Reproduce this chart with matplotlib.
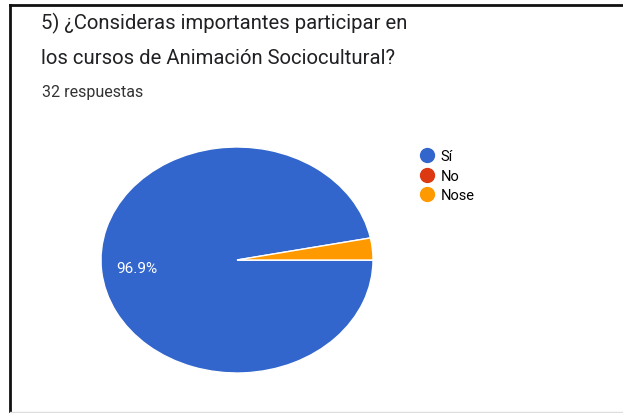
import matplotlib.pyplot as plt
from matplotlib.lines import Line2D

# Survey answers for question 5
labels = ["Sí", "No", "Nose"]
counts = [31, 0, 1]
colors = ["#3366CC", "#DC3912", "#FF9900"]

title_lines = ["5) ¿Consideras importantes participar en",
               "los cursos de Animación Sociocultural?"]
subtitle = "32 respuestas"

plt.rcParams["font.family"] = ["Roboto", "DejaVu Sans"]

W, H = 623, 414
fig = plt.figure(figsize=(W / 100, H / 100), dpi=100)
fig.patch.set_facecolor("white")

# card frame: top, left and bottom edges
frame = dict(color="#111111", linewidth=2.0, transform=fig.transFigure)
fig.add_artist(Line2D([10 / W, 1], [1 - 6 / H, 1 - 6 / H], **frame))
fig.add_artist(Line2D([10 / W, 10 / W], [1 - 6 / H, 1 / H], **frame))
fig.add_artist(Line2D([10 / W, 1], [1 / H, 1 / H], color="#dddddd", linewidth=1.0,
                      transform=fig.transFigure))

for i, line in enumerate(title_lines):
    fig.text(41 / W, 1 - (23 + 36 * i) / H, line, ha="left", va="center",
             fontsize=14.6, color="#202124")
fig.text(42 / W, 1 - 92 / H, subtitle, ha="left", va="center", fontsize=11.5,
         color="#333333")

# pie is drawn a bit wider than tall
ax = fig.add_axes([101 / W, 40 / H, 272 / W, 226 / H])
total = sum(counts)


def pct_label(p):
    return f"{p:.1f}%" if p > 5 else ""


wedges, texts, autotexts = ax.pie(
    counts, colors=colors, startangle=360 * counts[2] / total, counterclock=True,
    autopct=pct_label, pctdistance=0.74,
    wedgeprops=dict(edgecolor="white", linewidth=1.0),
    textprops=dict(color="white", fontsize=11),
)
ax.set_xlim(-1, 1)
ax.set_ylim(-1, 1)
ax.set_aspect("auto")

handles = [Line2D([], [], marker="o", linestyle="none", markersize=10,
                  markerfacecolor=c, markeredgecolor=c) for c in colors]
fig.legend(handles, labels, loc="upper left", bbox_to_anchor=(412 / W, 1 - 143 / H),
           frameon=False, fontsize=10.5, handletextpad=0.35, labelspacing=0.37,
           borderpad=0, handlelength=1.1)

fig.savefig("out.png", dpi=100, facecolor="white")
